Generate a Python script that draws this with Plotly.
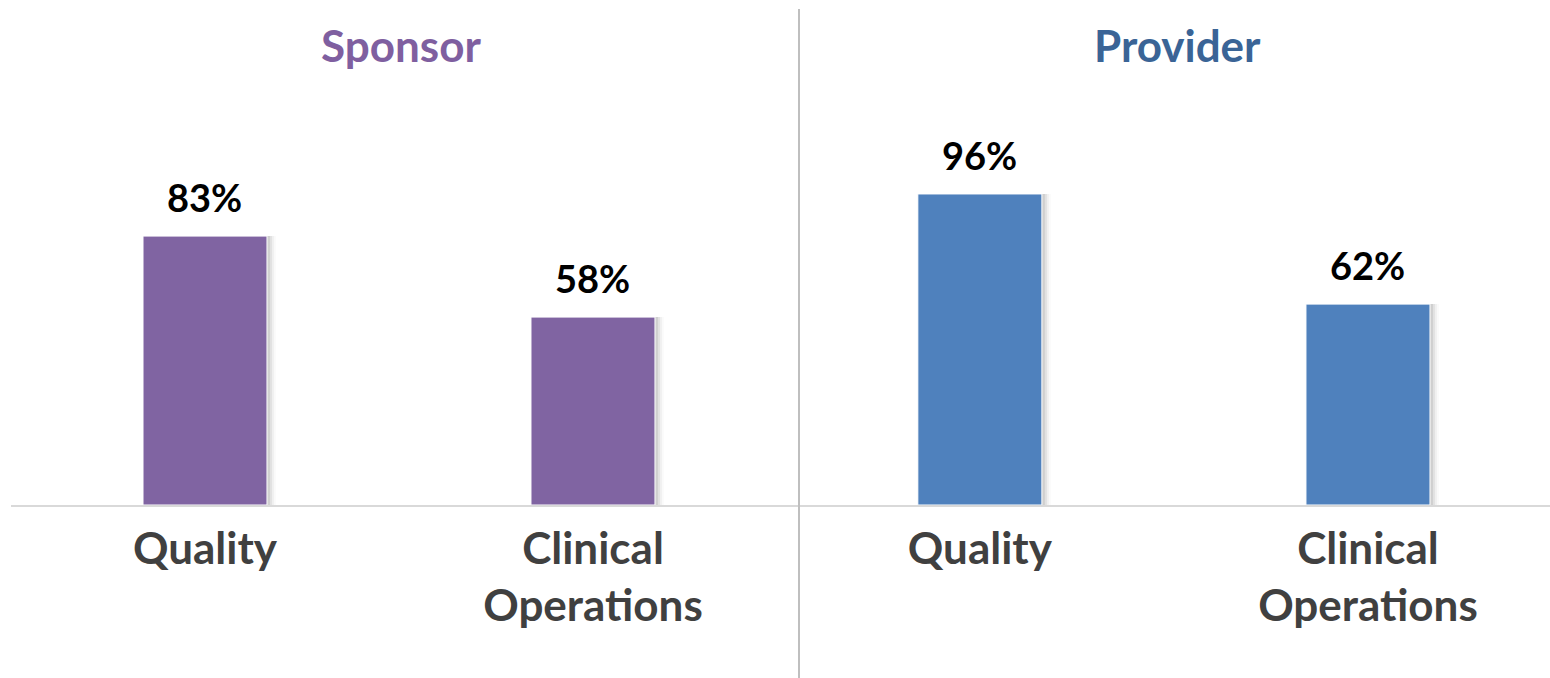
import plotly.graph_objects as go

categories = ["Quality", "Clinical<br>Operations"]
panels = ["Sponsor", "Provider"]
sponsor_values = [83, 58]
provider_values = [96, 62]
value_labels_sponsor = ["83%", "58%"]
value_labels_provider = ["96%", "62%"]

W, H = 1550, 678
FONT = "Lato, 'Open Sans', sans-serif"
purple = "#8064A2"
blue = "#4F81BD"
purple_title = "#7F5FA0"
blue_title = "#3A6496"

UNIT_PX = 388.0
BAR_W = 124 / UNIT_PX

fig = go.Figure()

for xa, ya, vals, col in [("x", "y", sponsor_values, purple), ("x2", "y2", provider_values, blue)]:
    # soft shadow on the right side
    for sh, alpha in [(3, 0.08), (5, 0.06), (7, 0.04), (9, 0.02)]:
        fig.add_trace(go.Bar(x=categories, y=vals, marker=dict(color="rgba(0,0,0,%s)" % alpha, line=dict(width=0)),
                             width=BAR_W, offset=-BAR_W / 2 + sh / UNIT_PX, xaxis=xa, yaxis=ya,
                             hoverinfo="skip", showlegend=False))
    fig.add_trace(go.Bar(x=categories, y=vals, marker=dict(color=col, line=dict(color="white", width=1)),
                         width=BAR_W, offset=-BAR_W / 2, xaxis=xa, yaxis=ya,
                         hoverinfo="skip", showlegend=False))

annotations = []
for xa, ya, vals, labs in [("x", "y", sponsor_values, value_labels_sponsor),
                           ("x2", "y2", provider_values, value_labels_provider)]:
    for c, v, l in zip(categories, vals, labs):
        annotations.append(dict(x=c, y=v, xref=xa, yref=ya, text="<b>%s</b>" % l, showarrow=False,
                                xanchor="center", yanchor="bottom", yshift=14,
                                font=dict(family=FONT, size=38, color="black")))

x1_dom = [11 / W, 799 / W]
x2_dom = [799 / W, 1.0]
annotations.append(dict(x=401 / W, y=1 - 45 / H, xref="paper", yref="paper", text="<b>%s</b>" % panels[0],
                        showarrow=False, xanchor="center", yanchor="middle",
                        font=dict(family=FONT, size=44, color=purple_title)))
annotations.append(dict(x=1177 / W, y=1 - 45 / H, xref="paper", yref="paper", text="<b>%s</b>" % panels[1],
                        showarrow=False, xanchor="center", yanchor="middle",
                        font=dict(family=FONT, size=44, color=blue_title)))

px_per = 3.24
base_px = 505
ydom = [(H - base_px) / H, 1.0]
yrange = [0, base_px / px_per]

axis_common = dict(type="category", showgrid=False, zeroline=False, showline=True, linecolor="#D9D9D9",
                   linewidth=1.5, ticks="", tickfont=dict(family=FONT, size=44, color="#404040"),
                   ticklabelstandoff=4)

fig.update_layout(
    width=W, height=H,
    margin=dict(l=0, r=0, t=0, b=0),
    paper_bgcolor="white", plot_bgcolor="white",
    barmode="overlay",
    xaxis=dict(domain=x1_dom, range=[-0.5, 1.531], anchor="y", **axis_common,
               tickvals=categories, ticktext=["<b>%s</b>" % c for c in categories]),
    xaxis2=dict(domain=x2_dom, range=[-0.466, 1.469], anchor="y2", **axis_common,
                tickvals=categories, ticktext=["<b>%s</b>" % c for c in categories]),
    yaxis=dict(domain=ydom, range=yrange, visible=False, anchor="x"),
    yaxis2=dict(domain=ydom, range=yrange, visible=False, anchor="x2"),
    annotations=annotations,
    shapes=[dict(type="line", xref="paper", yref="paper", x0=799 / W, x1=799 / W, y0=0, y1=1 - 9 / H,
                 line=dict(color="#BFBFBF", width=2))],
)

fig.write_html("out.html", config={"displayModeBar": False},
               post_script="document.body.style.margin='0';document.body.style.overflow='hidden';")
